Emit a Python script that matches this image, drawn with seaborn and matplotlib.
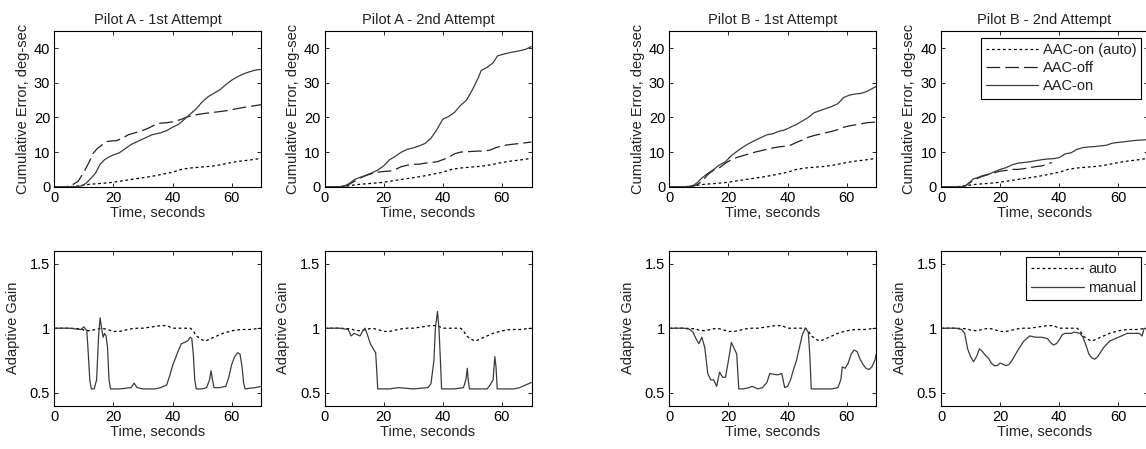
import numpy as np
import pandas as pd
import matplotlib
matplotlib.use("Agg")
import matplotlib.pyplot as plt
import seaborn as sns

# ---------------- data ----------------
titles = ["Pilot A - 1st Attempt", "Pilot A - 2nd Attempt",
          "Pilot B - 1st Attempt", "Pilot B - 2nd Attempt"]

# cumulative error, automatic reference (same in all panels)
auto_cum_t = [0, 3, 6, 8, 10, 12, 15, 18, 20, 23, 26, 30, 33, 36, 40, 43, 46, 50, 53, 56, 60, 63, 66, 70]
auto_cum = [0, 0, 0.05, 0.2, 0.5, 0.7, 0.9, 1.1, 1.3, 1.7, 2.1, 2.6, 3.0, 3.5, 4.2, 5.0, 5.4, 5.7, 5.9, 6.3, 7.0, 7.4, 7.7, 8.2]

a1_off_t = [0, 4, 6, 8, 9.5, 10.5, 12, 13, 14.5, 16, 17.5, 19, 21, 23, 25, 27, 30, 32, 35, 38, 40.5, 43, 45, 48, 51, 55, 58.5, 62, 66, 70]
a1_off = [0, 0, 0.5, 1.5, 3.5, 5.0, 7.5, 9.5, 11.0, 12.0, 13.0, 13.2, 13.3, 14.0, 15.0, 15.5, 16.3, 17.0, 18.3, 18.5, 18.8, 19.5, 20.2, 20.8, 21.2, 21.6, 22.0, 22.6, 23.2, 23.7]
a1_on_t = [0, 8, 9.5, 11, 12.5, 14, 15.5, 17, 18.5, 20, 22, 24, 26, 28, 30, 33, 36, 38, 40, 42, 44, 46, 48, 50, 52, 54, 56, 58, 60, 62, 64, 66, 68, 70]
a1_on = [0, 0, 0.3, 1.2, 2.5, 4.0, 6.5, 7.8, 8.6, 9.2, 9.8, 11.0, 12.2, 13.0, 13.8, 15.0, 15.6, 16.2, 17.2, 18.0, 19.5, 21.0, 22.5, 24.5, 26.0, 27.0, 28.0, 29.5, 30.8, 31.8, 32.6, 33.2, 33.7, 33.9]

a2_off_t = [0, 6, 8, 10, 12, 14, 16, 18, 20, 22, 24, 26, 28, 30, 32, 34, 36, 38, 40, 42, 44, 46, 48, 50, 52, 54, 56, 58, 60, 62, 65, 68, 70]
a2_off = [0, 0, 0.5, 1.5, 2.5, 3.2, 3.8, 4.2, 4.4, 4.5, 5.0, 5.8, 6.2, 6.5, 6.5, 6.8, 7.0, 7.2, 7.8, 8.5, 9.5, 10.0, 10.1, 10.2, 10.3, 10.3, 10.6, 11.3, 11.8, 12.1, 12.4, 12.7, 12.9]
a2_on_t = [0, 5, 7, 8.5, 10, 12, 14, 16, 18, 20, 22, 24, 26, 28, 30, 32, 34, 36, 38, 40, 42, 44, 46, 48, 50, 52, 53, 55, 57, 58.5, 60, 63, 66, 68, 70]
a2_on = [0, 0, 0.3, 1.0, 2.0, 2.7, 3.3, 4.0, 4.8, 6.0, 7.8, 8.8, 10.0, 10.8, 11.2, 11.8, 12.5, 14.0, 16.5, 19.5, 20.3, 21.5, 23.5, 25.0, 28.0, 31.5, 33.6, 34.5, 35.8, 37.8, 38.2, 38.8, 39.3, 39.7, 40.5]

b1_off_t = [0, 7, 9, 11, 13, 15, 17, 19, 21, 23, 25, 27, 29, 31, 33, 35, 37, 39, 41, 43, 45, 47, 49, 51, 53, 55, 57, 59, 61, 63, 65, 67, 70]
b1_off = [0, 0, 0.4, 1.5, 3.5, 4.8, 5.5, 6.8, 7.8, 8.5, 9.0, 9.5, 10.0, 10.4, 10.8, 11.2, 11.5, 11.7, 12.0, 12.8, 13.5, 14.3, 14.8, 15.2, 15.6, 16.0, 16.5, 17.2, 17.6, 17.9, 18.2, 18.5, 18.7]
b1_on_t = [0, 6, 8, 9.5, 11, 13, 15, 17, 19, 21, 23, 25, 27, 29, 31, 33, 35, 37, 39, 41, 43, 45, 47, 49, 51, 53, 55, 57, 59, 61, 63, 65, 67, 70]
b1_on = [0, 0, 0.3, 1.2, 2.5, 3.8, 5.0, 6.3, 7.2, 9.0, 10.3, 11.5, 12.5, 13.4, 14.2, 15.0, 15.3, 16.0, 16.4, 17.2, 18.0, 19.0, 20.0, 21.4, 22.0, 22.6, 23.2, 24.0, 25.8, 26.5, 26.8, 27.0, 27.6, 29.0]

b2_off_t = [0, 7, 8.5, 10, 12, 14, 16, 18, 20, 22, 24, 26, 28, 30, 32, 34, 36, 37.5]
b2_off = [0, 0, 0.4, 1.3, 2.3, 3.0, 3.5, 4.0, 4.5, 4.7, 5.0, 5.0, 5.2, 5.5, 5.8, 6.0, 6.5, 7.0]
b2_on_t = [0, 7, 8.5, 10, 11, 12, 14, 16, 18, 20, 22, 24, 26, 28, 30, 32, 34, 36, 38, 40, 42, 44, 46, 48, 50, 52, 54, 56, 58, 60, 62, 64, 66, 68, 70]
b2_on = [0, 0, 0.4, 1.5, 2.3, 2.5, 3.2, 3.6, 4.3, 5.0, 5.5, 6.3, 6.8, 7.0, 7.2, 7.5, 7.8, 8.0, 8.1, 8.4, 9.5, 9.8, 10.8, 11.3, 11.5, 11.6, 11.8, 12.0, 12.6, 12.8, 13.0, 13.2, 13.4, 13.5, 13.6]

# adaptive gain, automatic (same in all panels)
auto_gain_t = [0, 5, 9, 10, 12, 14, 16, 18, 20, 22, 24, 26, 28, 30, 33, 36, 38, 40, 43, 46, 47, 48, 50, 51, 53, 55, 57, 60, 63, 66, 70]
auto_gain = [1.0, 1.0, 0.995, 0.985, 0.98, 0.99, 1.0, 0.99, 0.975, 0.975, 0.985, 0.995, 1.0, 1.0, 1.01, 1.02, 1.02, 1.0, 1.0, 1.0, 0.98, 0.94, 0.91, 0.9, 0.92, 0.94, 0.96, 0.98, 0.99, 0.99, 1.0]

a1_gain_t = [0, 5, 9, 10, 11, 11.5, 12, 12.5, 13.5, 14.3, 15, 15.5, 16, 16.5, 17, 17.5, 18, 18.5, 19, 20, 22, 24, 26, 27, 28, 30, 34, 36, 38, 39, 40, 41, 42, 43, 44, 45, 46, 46.5, 47, 47.5, 48, 50, 51.5, 52.5, 53, 53.5, 54, 56, 58, 59, 60, 61, 62, 62.8, 63.5, 64, 64.5, 66, 68, 70]
a1_gain = [1.0, 1.0, 0.99, 1.01, 0.98, 0.8, 0.6, 0.53, 0.53, 0.6, 0.95, 1.08, 1.0, 0.93, 0.96, 0.94, 0.85, 0.6, 0.53, 0.53, 0.53, 0.535, 0.54, 0.575, 0.54, 0.53, 0.53, 0.54, 0.56, 0.63, 0.71, 0.77, 0.83, 0.88, 0.89, 0.9, 0.93, 0.92, 0.8, 0.6, 0.53, 0.53, 0.54, 0.6, 0.67, 0.6, 0.54, 0.54, 0.55, 0.62, 0.72, 0.78, 0.81, 0.8, 0.7, 0.58, 0.53, 0.535, 0.54, 0.55]

a2_gain_t = [0, 5, 8, 9, 10, 11, 12, 13, 13.7, 14.5, 15.5, 16.5, 17.3, 17.6, 18, 19, 22, 25, 30, 35, 36, 37, 37.5, 38.2, 38.7, 39.2, 39.6, 40, 44, 47, 47.8, 48.3, 48.6, 49, 52, 55, 56, 57, 57.6, 58, 58.4, 60, 64, 66, 68, 70]
a2_gain = [1.0, 1.0, 0.99, 0.94, 0.96, 0.95, 0.94, 0.98, 1.0, 0.95, 0.88, 0.84, 0.81, 0.7, 0.53, 0.53, 0.53, 0.54, 0.53, 0.54, 0.57, 0.75, 1.0, 1.13, 1.0, 0.75, 0.53, 0.53, 0.53, 0.54, 0.6, 0.69, 0.6, 0.53, 0.53, 0.53, 0.56, 0.6, 0.78, 0.7, 0.53, 0.53, 0.53, 0.54, 0.56, 0.58]

b1_gain_t = [0, 5, 7, 8, 9, 10, 11, 12, 13, 14, 15, 16, 17, 18, 19, 20, 21, 22, 22.8, 23.5, 25, 27, 28, 29, 30, 31.5, 33, 34, 36, 37, 38, 38.5, 39, 40, 41, 42, 43, 44, 45, 46, 47, 47.5, 48, 50, 55, 57, 58, 58.5, 59.5, 60.5, 61.5, 62.5, 63.5, 64.5, 65.5, 66.5, 67.5, 68.5, 69.5, 70]
b1_gain = [1.0, 1.0, 0.99, 0.97, 0.92, 0.88, 0.93, 0.85, 0.65, 0.6, 0.6, 0.55, 0.66, 0.62, 0.62, 0.75, 0.89, 0.84, 0.8, 0.53, 0.53, 0.54, 0.55, 0.54, 0.53, 0.54, 0.58, 0.65, 0.64, 0.64, 0.65, 0.6, 0.54, 0.55, 0.6, 0.68, 0.75, 0.85, 0.95, 1.0, 0.97, 0.8, 0.53, 0.53, 0.53, 0.54, 0.6, 0.7, 0.69, 0.73, 0.8, 0.83, 0.82, 0.76, 0.72, 0.69, 0.68, 0.7, 0.75, 0.8]

b2_gain_t = [0, 5, 7, 8, 9, 10, 11, 12, 13, 14, 15, 16, 17, 18, 19, 20, 21, 22, 23, 24, 26, 28, 30, 32, 34, 36, 37, 38, 39, 40, 41, 42, 44, 45, 47, 48, 49, 50, 51, 52, 53, 55, 57, 59, 61, 63, 65, 67, 68, 68.7, 70]
b2_gain = [1.0, 1.0, 0.99, 0.96, 0.84, 0.78, 0.74, 0.78, 0.84, 0.82, 0.79, 0.77, 0.73, 0.71, 0.71, 0.73, 0.72, 0.71, 0.72, 0.75, 0.83, 0.9, 0.94, 0.93, 0.93, 0.92, 0.89, 0.87, 0.88, 0.91, 0.95, 0.96, 0.96, 0.97, 0.96, 0.93, 0.87, 0.8, 0.77, 0.76, 0.78, 0.85, 0.9, 0.92, 0.94, 0.96, 0.96, 0.96, 0.94, 1.0, 0.99]

cum_series = [((a1_off_t, a1_off), (a1_on_t, a1_on)),
              ((a2_off_t, a2_off), (a2_on_t, a2_on)),
              ((b1_off_t, b1_off), (b1_on_t, b1_on)),
              ((b2_off_t, b2_off), (b2_on_t, b2_on))]
gain_series = [(a1_gain_t, a1_gain), (a2_gain_t, a2_gain),
               (b1_gain_t, b1_gain), (b2_gain_t, b2_gain)]

# ---------------- style ----------------
sns.set_theme(style="ticks")
plt.rcParams["font.family"] = ["Liberation Sans", "DejaVu Sans"]
FS = 10.5
plt.rcParams.update({
    "font.size": FS,
    "axes.edgecolor": "black",
    "axes.linewidth": 0.8,
    "xtick.direction": "in",
    "ytick.direction": "in",
    "xtick.top": True,
    "ytick.right": True,
    "xtick.major.size": 3,
    "ytick.major.size": 3,
    "xtick.major.width": 0.6,
    "ytick.major.width": 0.6,
    "xtick.color": "black",
    "ytick.color": "black",
    "text.color": "#222222",
    "axes.labelcolor": "#222222",
})

DOT = (0, (2.2, 2.2))
DASH = (0, (11, 4))
SOLID_C = "#3c3c3c"
W, H = 1146, 449
fig = plt.figure(figsize=(W / 100, H / 100), dpi=100)

lefts = [54.3, 324.5, 669.3, 941.0]
aw = 207.0
top_row = (31.0, 186.7)
bot_row = (250.7, 405.7)


def make_ax(left, row):
    t, b = row
    return fig.add_axes([left / W, 1 - b / H, aw / W, (b - t) / H])


def add_legend(ax):
    leg = ax.legend(loc="upper right", fancybox=False, framealpha=1,
                    edgecolor="black", fontsize=FS, handlelength=3.6,
                    borderaxespad=0.45, labelspacing=0.3, handletextpad=0.3,
                    borderpad=0.35)
    leg.get_frame().set_linewidth(0.8)


for i in range(4):
    ax = make_ax(lefts[i], top_row)
    (off_t, off_v), (on_t, on_v) = cum_series[i]
    lab = i == 3
    sns.lineplot(x=auto_cum_t, y=auto_cum, ax=ax, color="black", lw=0.9,
                 linestyle=DOT, label="AAC-on (auto)" if lab else None, legend=False)
    sns.lineplot(x=off_t, y=off_v, ax=ax, color="#222222", lw=0.9,
                 linestyle=DASH, label="AAC-off" if lab else None, legend=False)
    sns.lineplot(x=on_t, y=on_v, ax=ax, color=SOLID_C, lw=0.9,
                 linestyle="-", label="AAC-on" if lab else None, legend=False)
    ax.set_xlim(0, 70)
    ax.set_ylim(0, 45)
    ax.set_xticks([0, 20, 40, 60])
    ax.set_yticks([0, 10, 20, 30, 40])
    ax.set_title(titles[i], fontsize=FS, pad=5)
    ax.set_xlabel("Time, seconds", fontsize=FS, labelpad=1)
    ax.set_ylabel("Cumulative Error, deg-sec", fontsize=FS, labelpad=3)
    ax.tick_params(labelsize=FS, pad=3)
    if lab:
        add_legend(ax)

    ax2 = make_ax(lefts[i], bot_row)
    gt, gv = gain_series[i]
    sns.lineplot(x=auto_gain_t, y=auto_gain, ax=ax2, color="black", lw=0.9,
                 linestyle=DOT, label="auto" if lab else None, legend=False)
    sns.lineplot(x=gt, y=gv, ax=ax2, color=SOLID_C, lw=0.9,
                 linestyle="-", label="manual" if lab else None, legend=False)
    ax2.set_xlim(0, 70)
    ax2.set_ylim(0.4, 1.6)
    ax2.set_xticks([0, 20, 40, 60])
    ax2.set_yticks([0.5, 1, 1.5])
    ax2.set_yticklabels(["0.5", "1", "1.5"])
    ax2.set_xlabel("Time, seconds", fontsize=FS, labelpad=1)
    ax2.set_ylabel("Adaptive Gain", fontsize=FS, labelpad=7)
    ax2.tick_params(labelsize=FS, pad=3)
    if lab:
        add_legend(ax2)

fig.savefig("out.png", dpi=100)
